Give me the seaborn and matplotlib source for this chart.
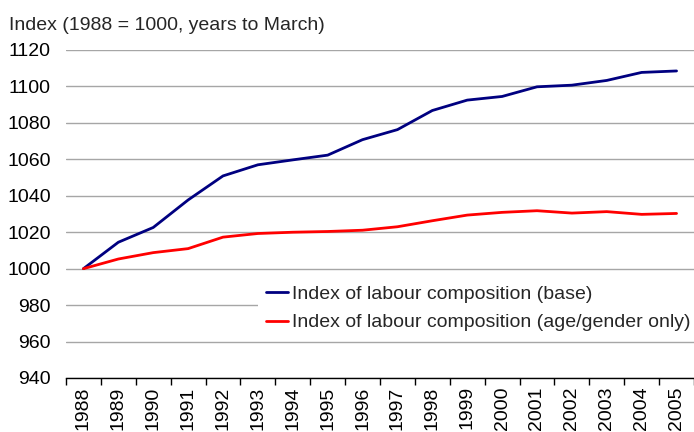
import pandas as pd
import matplotlib.pyplot as plt
import seaborn as sns

# data
years = list(range(1988, 2006))
base = [1000, 1014.5, 1022.6, 1037.7, 1050.9, 1057.0, 1059.7, 1062.3, 1070.8,
        1076.3, 1086.8, 1092.5, 1094.5, 1099.8, 1100.7, 1103.3, 1107.7, 1108.5]
age_gender = [1000, 1005.3, 1008.8, 1011.0, 1017.3, 1019.3, 1020.0, 1020.4, 1021.1,
              1023.0, 1026.3, 1029.4, 1030.9, 1031.8, 1030.5, 1031.3, 1029.8, 1030.3]
series_names = ["Index of labour composition (base)",
                "Index of labour composition (age/gender only)"]
yticks = list(range(940, 1121, 20))

df = pd.concat([
    pd.DataFrame({"Year": years, "Index": base, "Series": series_names[0]}),
    pd.DataFrame({"Year": years, "Index": age_gender, "Series": series_names[1]}),
])

sns.set_theme(style="white")
plt.rcParams['font.family'] = ['Liberation Sans', 'DejaVu Sans']
fs = 14

fig = plt.figure(figsize=(6.94, 4.32), dpi=100)
ax = fig.add_axes([66 / 694, 1 - 378 / 432, 628 / 694, 328 / 432])

sns.lineplot(data=df, x="Year", y="Index", hue="Series",
             palette=["#000080", "#ff0000"], linewidth=2.0, ax=ax)

ax.set_xlim(1987.5, 2005.5)
ax.set_ylim(940, 1120)
ax.set_yticks(yticks)
ax.set_yticklabels([str(v) for v in yticks], fontsize=fs, color="black")
ax.set_xticks(years)
ax.set_xticklabels([str(y) for y in years], rotation=90, fontsize=fs, color="black")
ax.set_xticks([y - 0.5 for y in years] + [2005.5], minor=True)
ax.tick_params(axis="x", which="major", length=0, pad=6)
ax.tick_params(axis="x", which="minor", length=5, width=1, color="black", direction="out", bottom=True)
ax.tick_params(axis="y", length=0, pad=11)
ax.yaxis.grid(True, color="#a6a6a6", linewidth=1)
ax.set_axisbelow(True)
ax.set_xlabel("")
ax.set_ylabel("")
for s in ["left", "right", "top"]:
    ax.spines[s].set_visible(False)
ax.spines["bottom"].set_color("black")
ax.spines["bottom"].set_linewidth(1)

leg = ax.legend(loc="upper left", bbox_to_anchor=(0.306, 0.306), frameon=True,
                fontsize=fs, handlelength=1.15, handletextpad=0.2,
                borderpad=0.4, labelspacing=0.55, borderaxespad=0)
leg.get_frame().set_facecolor("white")
leg.get_frame().set_edgecolor("none")
leg.get_frame().set_alpha(1)
leg.set_title(None)

fig.text(9 / 694, 1 - 25 / 432, "Index (1988 = 1000, years to March)",
         fontsize=fs, va="center", ha="left")

fig.savefig("out.png", dpi=100)
